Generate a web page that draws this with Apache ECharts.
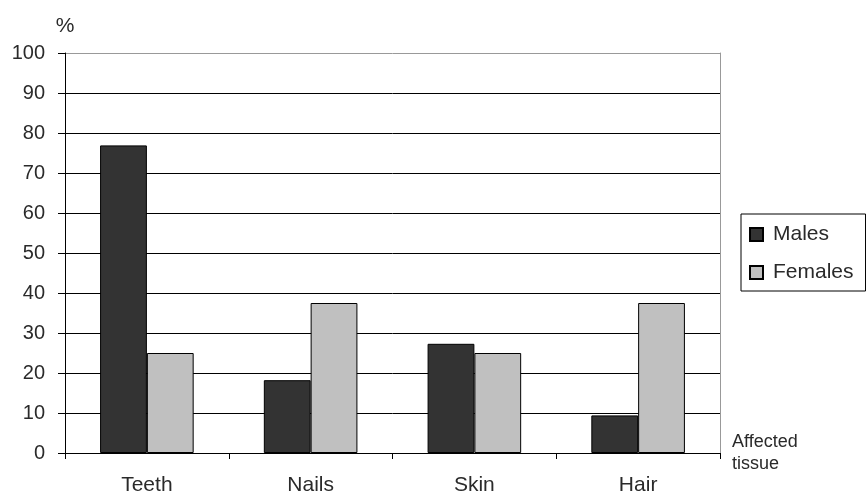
<!DOCTYPE html>
<html>
<head>
<meta charset="utf-8">
<script src="https://cdn.jsdelivr.net/npm/echarts@6/dist/echarts.min.js"></script>
<style>
html,body{margin:0;padding:0;background:#fff;}
#chart{width:866px;height:497px;}
</style>
</head>
<body>
<div id="chart"></div>
<script>
// Share of cases (%) by affected tissue and sex
const categories = ['Teeth', 'Nails', 'Skin', 'Hair'];
const males = [76.9, 18.2, 27.3, 9.4];
const females = [25, 37.5, 25, 37.5];
const yTicks = { min: 0, max: 100, interval: 10 };

const FONT = '"Liberation Sans", Arial, sans-serif';
const TEXT = '#2a2a2a';

const chart = echarts.init(document.getElementById('chart'), null, { renderer: 'canvas' });

// Gridline colours: black for 0..90, light grey for the top line at 100
const gridColors = [];
for (let v = yTicks.min; v <= yTicks.max; v += yTicks.interval) {
  gridColors.push(v === yTicks.max ? '#999' : '#000');
}

chart.setOption({
  animation: false,
  backgroundColor: '#fff',
  grid: { left: 65, right: 146, top: 53, bottom: 44 },
  legend: {
    orient: 'vertical',
    left: 741,
    top: 214,
    padding: [10, 12, 8, 8],
    itemGap: 17,
    itemWidth: 13,
    itemHeight: 13,
    borderColor: '#000',
    borderWidth: 1,
    icon: 'rect',
    textStyle: { fontFamily: FONT, fontSize: 21, color: TEXT, padding: [0, 0, 0, 5] },
    data: ['Males', 'Females']
  },
  xAxis: {
    type: 'category',
    data: categories,
    boundaryGap: true,
    name: 'Affected\ntissue',
    nameLocation: 'end',
    nameGap: 12,
    nameTextStyle: { fontFamily: FONT, fontSize: 18, color: TEXT, lineHeight: 22, align: 'left', verticalAlign: 'middle' },
    axisLine: { show: true, lineStyle: { color: '#000', width: 1 } },
    axisTick: { show: true, length: 6, inside: false, alignWithLabel: false, lineStyle: { color: '#000' } },
    axisLabel: { fontFamily: FONT, fontSize: 21, color: TEXT, margin: 22 },
    splitLine: { show: false }
  },
  yAxis: [{
    type: 'value',
    min: yTicks.min,
    max: yTicks.max,
    interval: yTicks.interval,
    name: '%',
    nameLocation: 'end',
    nameGap: 16,
    nameTextStyle: { fontFamily: FONT, fontSize: 21, color: TEXT, align: 'center' },
    axisLine: { show: true, lineStyle: { color: '#000', width: 1 } },
    axisTick: { show: true, length: 7, inside: false, lineStyle: { color: '#000' } },
    axisLabel: { fontFamily: FONT, fontSize: 20, color: TEXT, margin: 20 },
    splitLine: { show: true, lineStyle: { color: gridColors, width: 1 } }
  }, {
    // right-hand frame of the plot area
    type: 'value',
    position: 'right',
    min: yTicks.min,
    max: yTicks.max,
    interval: yTicks.interval,
    axisLine: { show: true, lineStyle: { color: '#999', width: 1 } },
    axisTick: { show: false },
    axisLabel: { show: false },
    splitLine: { show: false }
  }],
  series: [{
    name: 'Males',
    type: 'bar',
    data: males,
    barGap: '0%',
    barCategoryGap: '42.86%',
    itemStyle: { color: '#333333', borderColor: '#000', borderWidth: 1 }
  }, {
    name: 'Females',
    type: 'bar',
    data: females,
    barGap: '0%',
    barCategoryGap: '42.86%',
    itemStyle: { color: '#c0c0c0', borderColor: '#000', borderWidth: 1 }
  }]
});
</script>
</body>
</html>
